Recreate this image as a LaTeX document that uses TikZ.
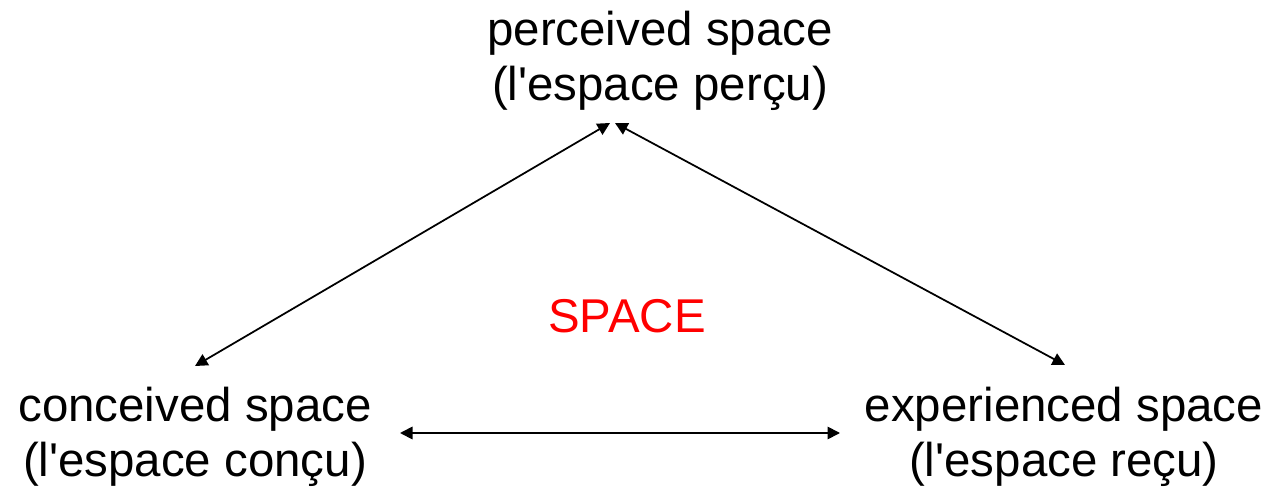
\documentclass[tikz,border=0pt]{standalone}
\usepackage{fontspec}
\setmainfont{Liberation Sans}
\usetikzlibrary{arrows.meta, positioning}

\tikzset{
  spacelabel/.style={align=center, font=\fontsize{27}{31}\selectfont},
  dialectic/.style={line width=1pt, {Triangle[length=0.25cm, width=0.25cm]}-{Triangle[length=0.25cm, width=0.25cm]}}
}

\begin{document}
\begin{tikzpicture}[x=0.02cm, y=0.02cm]
    \useasboundingbox (0,0) rectangle (1274,491);

    % the three moments of space
    \node[spacelabel] (perceived) at (660,430) {perceived space\\(l\textquotesingle espace perçu)};
    \node[spacelabel] (conceived) at (195,54) {conceived space\\(l\textquotesingle espace conçu)};
    \node[spacelabel] (experienced) at (1064,54) {experienced space\\(l\textquotesingle espace reçu)};
    \node[spacelabel, text=red] (space) at (627,175) {SPACE};

    % arrow ends
    \coordinate (pc-left) at (610,368);
    \coordinate (pc-right) at (615,368);
    \coordinate (cc-up) at (195,125);
    \coordinate (ec-up) at (1065,126);
    \coordinate (cc-right) at (400,58);
    \coordinate (ec-left) at (840,58);

    \draw[dialectic] (cc-up) -- (pc-left);
    \draw[dialectic] (pc-right) -- (ec-up);
    \draw[dialectic] (cc-right) -- (ec-left);
\end{tikzpicture}
\end{document}
